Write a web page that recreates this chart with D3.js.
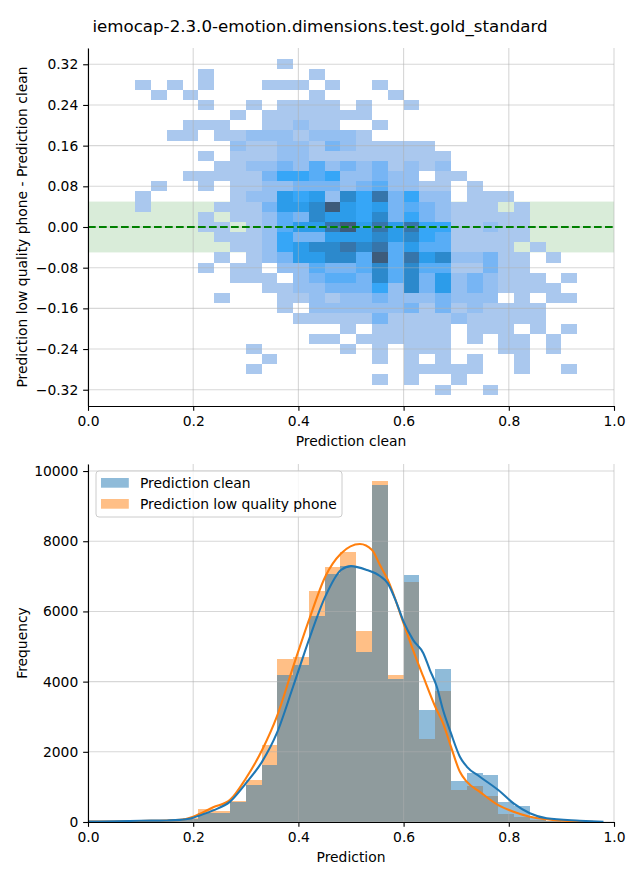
<!DOCTYPE html>
<html><head><meta charset="utf-8">
<script src="https://cdn.jsdelivr.net/npm/d3@7"></script>
<style>
body{margin:0;background:#fff}
svg{display:block}
text{font-family:"DejaVu Sans",sans-serif;fill:#000}
</style>
</head><body>
<svg id="chart" width="640" height="880"></svg>
<script>
// ---------------- DATA ----------------
const titleText = "iemocap-2.3.0-emotion.dimensions.test.gold_standard";
const topXLabel = "Prediction clean";
const topYLabel = "Prediction low quality phone - Prediction clean";
const botXLabel = "Prediction";
const botYLabel = "Frequency";
const seriesNames = ["Prediction clean", "Prediction low quality phone"];

// 2D histogram: column bin lefts (x) and row bin tops (y)
const heatColLefts = [0.09,0.12,0.15,0.18,0.21,0.24,0.27,0.30,0.33,0.36,0.39,0.42,0.45,0.48,0.51,0.54,0.57,0.60,0.63,0.66,0.69,0.72,0.75,0.78,0.81,0.84,0.87,0.90];
const heatBinW = 0.03;
const heatRowTops = [0.33,0.31,0.29,0.27,0.25,0.23,0.21,0.19,0.17,0.15,0.13,0.11,0.09,0.07,0.05,0.03,0.01,-0.01,-0.03,-0.05,-0.07,-0.09,-0.11,-0.13,-0.15,-0.17,-0.19,-0.21,-0.23,-0.25,-0.27,-0.29,-0.31];
const heatBinH = 0.02;
// count level per cell ('.' = empty)
const heatRows = [
".... .... .1.. .... .... .... ....",
".... 1... ...1 .... .... .... ....",
"1.1. 1... 111. 1..1 .... .... ....",
".1.1 .... ...1 .... 1... .... ....",
".... 1..1 .111 1.1. .1.. .... ....",
".... ..1. 1111 111. .... .... ....",
"...1 11.. 1121 1..1 .... .... ....",
"..11 .112 2212 221. .... .... ....",
".... ..21 1221 3211 111. .... ....",
".... 1.11 1221 1111 1111 .... ....",
".... .112 2324 2323 1212 .... ....",
"...1 1111 3554 5223 22.1 1... ....",
".1.. 1.11 2233 3234 2211 .1.. ....",
"1... ..12 2656 2758 3522 .111 ....",
"1... .111 3667 9656 3432 111. 1...",
".... 1.11 2437 6657 3532 1111 1...",
".... 11.1 2466 8968 6855 1121 1...",
".... .111 2533 6667 6754 1111 1...",
".... ..11 2567 7878 4644 1111 .1..",
".... .1.1 2366 7749 4867 2231 1.1.",
".... 1.11 .224 3347 4744 1131 1...",
".... ..11 1.23 4437 4736 2321 11.1",
".... .... 1122 3335 2736 2321 111.",
".... .1.. .112 1223 2223 222. 1.11",
".... .... .1.2 2222 2313 1211 11..",
".... .... ..11 1113 1111 2111 11..",
".... .... .... .1.1 1111 .111 .1.1",
".... .... ...1 1.11 1111 .1.1 1.1.",
".... ...1 .... .1.1 .111 ...1 1.1.",
".... .... 1... ...1 .1.1 .1.. 1...",
".... ...1 .... .... .111 11.. 1..1",
".... .... .... ...1 .1.. 1... ....",
".... .... .... .... ...1 ..1. ...."
];
const levelCount = {"1":1,"2":9,"3":18,"4":26,"5":32,"6":40,"7":56,"8":72,"9":94};
const heatVmax = 100;
const bandLow = -0.05, bandHigh = 0.05;

const topXTicks = [0,0.2,0.4,0.6,0.8,1.0];
const topYTicks = [-0.32,-0.24,-0.16,-0.08,0,0.08,0.16,0.24,0.32];

// 1D histograms
const histBinLefts = [0.00,0.03,0.06,0.09,0.12,0.15,0.18,0.21,0.24,0.27,0.30,0.33,0.36,0.39,0.42,0.45,0.48,0.51,0.54,0.57,0.60,0.63,0.66,0.69,0.72,0.75,0.78,0.81,0.84,0.87,0.90,0.93,0.96];
const histBinW = 0.03;
const histClean = [10,15,20,30,45,50,90,270,270,580,1050,1620,4190,4470,5880,7070,7290,4850,9600,4070,7040,3190,4360,1170,1390,1340,570,460,100,40,20,10,5];
const histLow   = [15,15,20,30,40,50,100,360,320,600,1200,2190,4640,4690,6580,7260,7690,5440,9715,4190,6830,2370,3730,910,1030,740,240,150,50,20,10,5,2];

// KDE curves
const kdeCleanX = [0.00,0.05,0.10,0.15,0.175,0.20,0.211,0.238,0.27,0.30,0.331,0.359,0.39,0.42,0.451,0.481,0.50,0.53,0.555,0.57,0.587,0.60,0.618,0.6375,0.65,0.663,0.675,0.69,0.707,0.72,0.745,0.78,0.809,0.84,0.872,0.935,0.98];
const kdeCleanY = [15,20,35,45,60,120,180,330,580,1100,1720,2530,3860,5190,6420,7180,7290,7180,7010,6800,6230,5710,5190,4810,4330,3860,3190,2530,1860,1580,1290,910,530,250,105,38,5];
const kdeLowX = [0.00,0.05,0.10,0.15,0.175,0.20,0.238,0.27,0.30,0.331,0.359,0.39,0.42,0.451,0.481,0.517,0.54,0.555,0.57,0.60,0.618,0.6375,0.66,0.675,0.69,0.707,0.72,0.745,0.78,0.809,0.84,0.872,0.93,0.96];
const kdeLowY = [10,15,30,45,60,150,420,630,1240,2050,3000,4420,5750,6990,7650,7920,7750,7320,6900,5660,4900,4140,3290,2810,2150,1430,1150,860,480,290,150,76,15,3];

const botYTicks = [0,2000,4000,6000,8000,10000];
const botXTicks = [0,0.2,0.4,0.6,0.8,1.0];

// ---------------- COLOURS (seaborn husl ramp from #1f77b4) ----------------
const M = [[3.2406,-1.5372,-0.4986],[-0.9689,1.8758,0.0415],[0.0557,-0.2040,1.0570]];
const MInv = [[0.4124,0.3576,0.1805],[0.2126,0.7152,0.0722],[0.0193,0.1192,0.9505]];
const refU=0.19784, refV=0.46834, labE=0.008856, labK=903.3;
function maxChroma(L,H){
  const hr=H*Math.PI/180, sinH=Math.sin(hr), cosH=Math.cos(hr);
  const sub1=Math.pow(L+16,3)/1560896; const sub2=sub1>0.008856?sub1:L/903.3;
  let res=Infinity;
  for(const [m1,m2,m3] of M){
    const top=(0.99915*m1+1.05122*m2+1.14460*m3)*sub2;
    const rb=0.86330*m3-0.17266*m2, lb=0.12949*m3-0.38848*m1;
    const bottom=(rb*sinH+lb*cosH)*sub2;
    for(const t of [0,1]){const C=L*(top-1.05122*t)/(bottom+0.17266*sinH*t); if(C>0&&C<res)res=C;}
  }
  return res;
}
const toLin=c=>c>0.04045?Math.pow((c+0.055)/1.055,2.4):c/12.92;
const fromLin=c=>c<=0.0031308?12.92*c:1.055*Math.pow(c,1/2.4)-0.055;
function rgbToHusl(r,g,b){
  const rl=[r,g,b].map(toLin);
  const [X,Y,Z]=MInv.map(row=>row[0]*rl[0]+row[1]*rl[1]+row[2]*rl[2]);
  const d=X+15*Y+3*Z, vu=4*X/d, vv=9*Y/d;
  const L=116*(Y>labE?Math.cbrt(Y):7.787*Y+16/116)-16;
  const U=13*L*(vu-refU), V=13*L*(vv-refV);
  const C=Math.hypot(U,V); let H=Math.atan2(V,U)*180/Math.PI; if(H<0)H+=360;
  return [H, C/maxChroma(L,H)*100, L];
}
function huslToRgb(H,S,L){
  const C=maxChroma(L,H)/100*S, hr=H*Math.PI/180;
  const U=Math.cos(hr)*C, V=Math.sin(hr)*C;
  const t=(L+16)/116; const Y=Math.pow(t,3)>labE?Math.pow(t,3):(116*t-16)/labK;
  const vu=U/(13*L)+refU, vv=V/(13*L)+refV;
  const X=0-(9*Y*vu)/((vu-4)*vv-vu*vv);
  const Z=(9*Y-15*vv*Y-vv*X)/(3*vv);
  return M.map(row=>fromLin(row[0]*X+row[1]*Y+row[2]*Z)).map(c=>Math.min(1,Math.max(0,c)));
}
const seed = d3.rgb("#1f77b4");
const [seedH, seedS] = rgbToHusl(seed.r/255, seed.g/255, seed.b/255);
function cmap(t){
  const i=Math.min(255,Math.max(0,Math.floor(t*256)));
  const j=255-i;
  const xx=-1+2*j/293, L=35+45*j/255, S=seedS*Math.cos(xx);
  const [r,g,b]=huslToRgb(seedH,S,L);
  return d3.rgb(r*255,g*255,b*255).formatHex();
}

// ---------------- DRAW ----------------
const svg = d3.select("#chart");
const FS = 13.89;
const left=88, right=614;
const topT=48, topB=406, botT=464, botB=822;
const tickLen=4.86, tickPad=4.86;
const gridCol="#b0b0b0", gridOp=0.5;
const minus = s => s.replace("-", "\u2212");

svg.append("text").attr("x",320).attr("y",32).attr("text-anchor","middle")
  .attr("font-size",16.67).text(titleText);

// ===== top panel =====
const xT = d3.scaleLinear([0,1],[left,right]);
const yT = d3.scaleLinear([-0.352,0.352],[topB,topT]);
const gTop = svg.append("g");

gTop.append("rect").attr("x",xT(0)).attr("width",xT(1)-xT(0))
  .attr("y",yT(bandHigh)).attr("height",yT(bandLow)-yT(bandHigh))
  .attr("fill","green").attr("fill-opacity",0.15);

const cells=[];
heatRows.forEach((row,r)=>{
  const s=row.replace(/ /g,"");
  for(let c=0;c<heatColLefts.length;c++){
    const ch=s[c];
    if(ch && ch!=="."){ cells.push({x0:heatColLefts[c], y1:heatRowTops[r], n:levelCount[ch]}); }
  }
});
gTop.append("g").attr("shape-rendering","crispEdges").selectAll("rect").data(cells).join("rect")
  .attr("x",d=>xT(d.x0)).attr("width",d=>xT(d.x0+heatBinW)-xT(d.x0))
  .attr("y",d=>yT(d.y1)).attr("height",d=>yT(d.y1-heatBinH)-yT(d.y1))
  .attr("fill",d=>cmap(d.n/heatVmax));

// grid
const gridT = gTop.append("g").attr("stroke",gridCol).attr("stroke-opacity",gridOp).attr("stroke-width",1.1);
gridT.selectAll(".gx").data(topXTicks).join("line").attr("x1",d=>xT(d)).attr("x2",d=>xT(d)).attr("y1",topT).attr("y2",topB);
gridT.selectAll(".gy").data(topYTicks).join("line").attr("y1",d=>yT(d)).attr("y2",d=>yT(d)).attr("x1",left).attr("x2",right);

// zero dashed line
gTop.append("line").attr("x1",left).attr("x2",right).attr("y1",yT(0)).attr("y2",yT(0))
  .attr("stroke","#008000").attr("stroke-width",2.08).attr("stroke-dasharray","7.7,3.3");

function styleAxis(g){
  g.selectAll("text").attr("font-family","DejaVu Sans").attr("font-size",FS).attr("fill","#000");
  g.selectAll("line,path").attr("stroke","#000").attr("stroke-width",1.1);
}
gTop.append("g").attr("transform",`translate(0,${topB})`)
  .call(d3.axisBottom(xT).tickValues(topXTicks).tickFormat(d3.format(".1f")).tickSize(tickLen).tickPadding(tickPad).tickSizeOuter(0))
  .call(styleAxis);
gTop.append("g").attr("transform",`translate(${left},0)`)
  .call(d3.axisLeft(yT).tickValues(topYTicks).tickFormat(d=>minus(d3.format(".2f")(d))).tickSize(tickLen).tickPadding(tickPad).tickSizeOuter(0))
  .call(styleAxis);
// axis domains should span full axes
gTop.append("text").attr("x",(left+right)/2).attr("y",446).attr("text-anchor","middle").attr("font-size",FS).text(topXLabel);
gTop.append("text").attr("transform",`translate(26.5,${(topT+topB)/2}) rotate(-90)`).attr("text-anchor","middle").attr("font-size",FS).text(topYLabel);

// ===== bottom panel =====
const xB = d3.scaleLinear([0,1],[left,right]);
const yMax = d3.max([...histClean,...histLow])*1.05;
const yB = d3.scaleLinear([0,yMax],[botB,botT]);
const gBot = svg.append("g");

const series = [
  {vals:histLow, color:"#ff7f0e"},
  {vals:histClean, color:"#1f77b4"}
];
series.forEach(s=>{
  gBot.append("g").attr("shape-rendering","crispEdges").selectAll("rect").data(histBinLefts).join("rect")
    .attr("x",d=>xB(d)).attr("width",d=>xB(d+histBinW)-xB(d))
    .attr("y",(d,i)=>yB(s.vals[i])).attr("height",(d,i)=>yB(0)-yB(s.vals[i]))
    .attr("fill",s.color).attr("fill-opacity",0.5);
});

const gridB = gBot.append("g").attr("stroke",gridCol).attr("stroke-opacity",gridOp).attr("stroke-width",1.1);
gridB.selectAll(".gx").data(botXTicks).join("line").attr("x1",d=>xB(d)).attr("x2",d=>xB(d)).attr("y1",botT).attr("y2",botB);
gridB.selectAll(".gy").data(botYTicks).join("line").attr("y1",d=>yB(d)).attr("y2",d=>yB(d)).attr("x1",left).attr("x2",right);

const line = d3.line().x(d=>xB(d[0])).y(d=>yB(d[1])).curve(d3.curveMonotoneX);
gBot.append("path").datum(kdeLowX.map((x,i)=>[x,kdeLowY[i]])).attr("d",line)
  .attr("fill","none").attr("stroke","#ff7f0e").attr("stroke-width",2.08);
gBot.append("path").datum(kdeCleanX.map((x,i)=>[x,kdeCleanY[i]])).attr("d",line)
  .attr("fill","none").attr("stroke","#1f77b4").attr("stroke-width",2.08);

gBot.append("g").attr("transform",`translate(0,${botB})`)
  .call(d3.axisBottom(xB).tickValues(botXTicks).tickFormat(d3.format(".1f")).tickSize(tickLen).tickPadding(tickPad).tickSizeOuter(0))
  .call(styleAxis);
gBot.append("g").attr("transform",`translate(${left},0)`)
  .call(d3.axisLeft(yB).tickValues(botYTicks).tickFormat(d3.format("d")).tickSize(tickLen).tickPadding(tickPad).tickSizeOuter(0))
  .call(styleAxis);
gBot.append("text").attr("x",(left+right)/2).attr("y",862).attr("text-anchor","middle").attr("font-size",FS).text(botXLabel);
gBot.append("text").attr("transform",`translate(26.5,${(botT+botB)/2}) rotate(-90)`).attr("text-anchor","middle").attr("font-size",FS).text(botYLabel);

// legend
const lg = gBot.append("g");
lg.append("rect").attr("x",96).attr("y",471).attr("width",246).attr("height",46).attr("rx",3)
  .attr("fill","#fff").attr("fill-opacity",0.8).attr("stroke","#cccccc").attr("stroke-width",1);
[{name:seriesNames[0],color:"#1f77b4"},{name:seriesNames[1],color:"#ff7f0e"}].forEach((e,i)=>{
  const cy = 483 + i*21;
  lg.append("rect").attr("x",101).attr("y",cy-5).attr("width",27.8).attr("height",9.7)
    .attr("fill",e.color).attr("fill-opacity",0.5);
  lg.append("text").attr("x",140).attr("y",cy).attr("dominant-baseline","central").attr("font-size",FS).text(e.name);
});
</script>
</body></html>
